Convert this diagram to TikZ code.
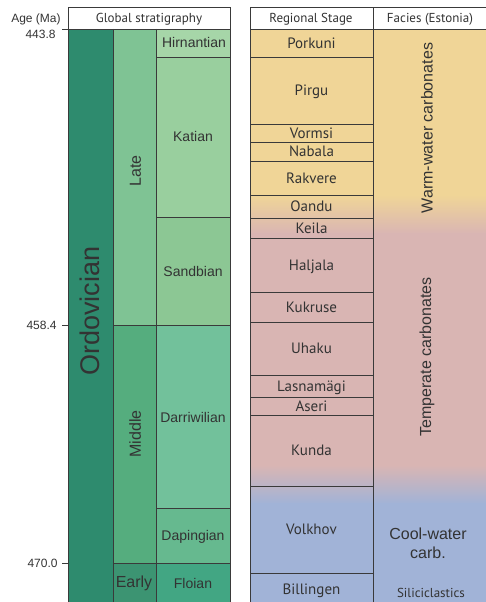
\documentclass[tikz,border=0pt]{standalone}
\usepackage{fontspec}
\setmainfont{Liberation Sans}
\newfontfamily\myriad{PT Sans}

\definecolor{ordo}{HTML}{2E8B6E}
\definecolor{late}{HTML}{7FC394}
\definecolor{middle}{HTML}{55AD7E}
\definecolor{early}{HTML}{3C9472}
\definecolor{hirn}{HTML}{A6D6A8}
\definecolor{kati}{HTML}{99CF9E}
\definecolor{sand}{HTML}{8CC794}
\definecolor{darr}{HTML}{72C19B}
\definecolor{dapi}{HTML}{66B98F}
\definecolor{floi}{HTML}{42A683}
\definecolor{warm}{HTML}{F0D597}
\definecolor{temp}{HTML}{D9B5B3}
\definecolor{cool}{HTML}{A1B3D7}
\definecolor{linegray}{HTML}{3A3A3A}
\definecolor{txt}{HTML}{333333}

\tikzset{
  label/.style={text=txt, inner sep=0pt},
  header/.style={label, font=\myriad\fontsize{13}{13}\selectfont, text height=9pt, text depth=0pt},
  regname/.style={label, font=\myriad\fontsize{15}{15}\selectfont, text height=10.5pt, text depth=0pt},
  gstage/.style={label, font=\fontsize{14}{14}\selectfont, text height=10pt, text depth=0pt},
  series/.style={label, font=\fontsize{16}{16}\selectfont, text height=11.5pt, text depth=0pt},
  facies/.style={label, font=\fontsize{16}{19}\selectfont, align=center},
  age/.style={label, font=\fontsize{12}{12}\selectfont, anchor=east, text height=8.6pt, text depth=0pt},
}

\begin{document}
\begin{tikzpicture}[x=1pt, y=-1pt, line width=0.8pt, draw=linegray]
\useasboundingbox (0,0) rectangle (485,602);

% global stratigraphy
\fill[ordo] (68,29) rectangle (113,602);
\fill[late] (113,29) rectangle (156,325);
\fill[middle] (113,325) rectangle (156,563);
\fill[early] (113,563) rectangle (156,602);
\fill[hirn] (156,29) rectangle (230,57);
\fill[kati] (156,57) rectangle (230,217);
\fill[sand] (156,217) rectangle (230,325);
\fill[darr] (156,325) rectangle (230,508);
\fill[dapi] (156,508) rectangle (230,563);
\fill[floi] (156,563) rectangle (230,602);

\draw[fill=white] (68,7) rectangle (230,29);
\foreach \x in {68,113,156,230}
  \draw (\x,29) -- (\x,602);
\foreach \y in {57,217,508}
  \draw (156,\y) -- (230,\y);
\draw (113,325) -- (230,325);
\draw (113,563) -- (230,563);

\node[header] (gshead) at (149,18) {Global stratigraphy};
\node[label, font=\fontsize{27}{27}\selectfont, rotate=90, text height=19pt, text depth=0pt] (ordovician) at (90,311) {Ordovician};
\node[series, rotate=90] (late) at (135,171) {Late};
\node[series, rotate=90] (middle) at (135,434) {Middle};
\node[series] (early) at (134,582) {Early};
\node[gstage] (hirnantian) at (194,43) {Hirnantian};
\node[gstage] (katian) at (193,136) {Katian};
\node[gstage] (sandbian) at (193,271) {Sandbian};
\node[gstage] (darriwilian) at (193,417) {Darriwilian};
\node[gstage] (dapingian) at (193,535) {Dapingian};
\node[gstage] (floian) at (193,583) {Floian};

% ages
\node[age] (agehead) at (61,18) {Age (Ma)};
\node[age] (a1) at (56,34) {443.8};
\node[age] (a2) at (57,325) {458.4};
\node[age] (a3) at (58,563) {470.0};
\draw (62,29) -- (68,29);
\draw (62,325) -- (68,325);
\draw (62,563) -- (68,563);

% regional stages and facies
\fill[warm] (250,29) rectangle (486,196);
\shade[top color=warm, bottom color=temp] (250,195) rectangle (486,234);
\fill[temp] (250,233) rectangle (486,466);
\shade[top color=temp, bottom color=cool] (250,465) rectangle (486,504);
\fill[cool] (250,503) rectangle (486,602);

\draw[fill=white] (250,7) rectangle (373,29);
\draw[fill=white] (373,7) rectangle (486,29);
\draw (250,29) -- (250,602);
\draw (373,29) -- (373,602);
\node[header] (rshead) at (311,18) {Regional Stage};
\node[header] (fhead) at (430,18) {Facies (Estonia)};

\foreach \top/\bot/\name [count=\i] in {29/57/Porkuni, 57/124/Pirgu, 124/142/Vormsi,
    142/161/Nabala, 161/195/Rakvere, 195/218/Oandu, 218/238/Keila, 238/292/Haljala,
    292/322/Kukruse, 322/375/Uhaku, 375/397/Lasnamägi, 397/415/Aseri, 415/486/Kunda,
    486/573/Volkhov, 573/605/Billingen} {
  \draw (250,\bot) -- (373,\bot);
  \node[regname] (reg\i) at (311.5,{(\top+\bot)/2}) {\name};
}

\node[facies, rotate=90] (warmlabel) at (427,128) {Warm-water carbonates};
\node[facies, rotate=90] (templabel) at (427,357) {Temperate carbonates};
\node[facies] (coollabel) at (428,543) {Cool-water\\carb.};
\node[label, font=\myriad\fontsize{13}{13}\selectfont] (silici) at (431,593) {Siliciclastics};
\end{tikzpicture}
\end{document}
